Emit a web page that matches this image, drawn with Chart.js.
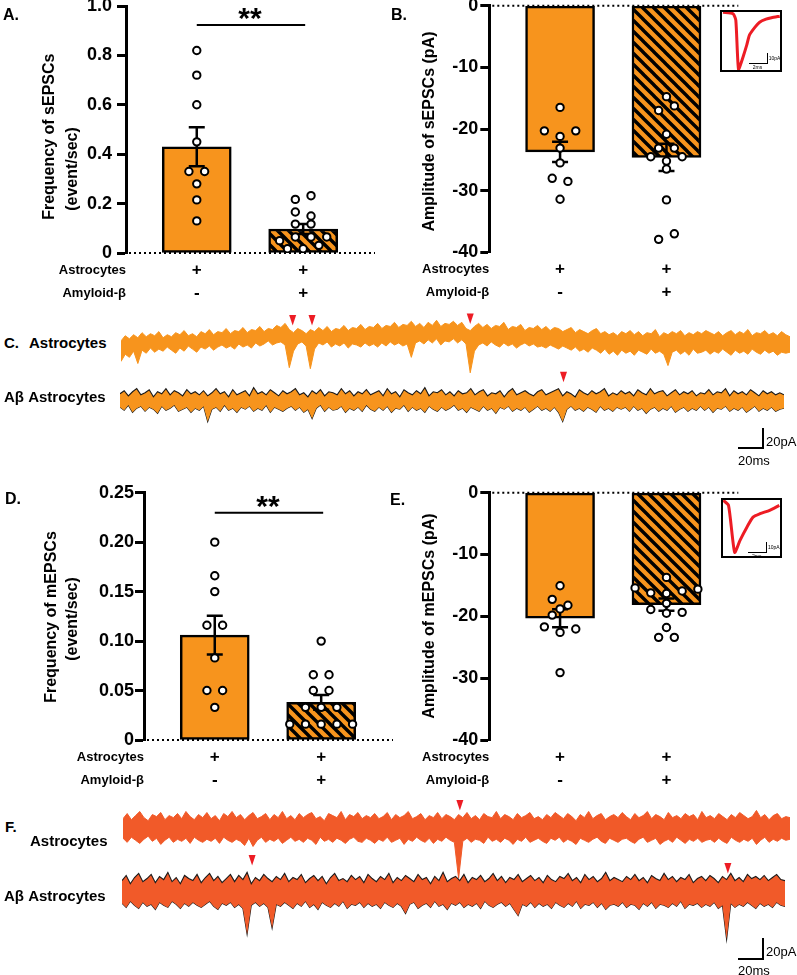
<!DOCTYPE html>
<html>
<head>
<meta charset="utf-8">
<title>Astrocytes and amyloid-beta EPSCs</title>
<script src="https://cdn.jsdelivr.net/npm/chart.js@4.4.1/dist/chart.umd.min.js"></script>
<style>
  html, body { margin: 0; padding: 0; background: #fff; }
  #fig { position: relative; width: 797px; height: 975px; overflow: hidden; font-family: "Liberation Sans", Arial, sans-serif; color: #000; }
  #fig canvas { position: absolute; }
  .lbl { position: absolute; white-space: nowrap; line-height: 1; transform: translateY(-50%); }
  .ln { position: absolute; background: #000; }
  .inset { position: absolute; box-sizing: border-box; border: 2px solid #000; background: #fff; }
</style>
</head>
<body>
<div id="fig"></div>
<script>
// ---------------- data ----------------
// condition rows under each bar
const rowNames = ['Astrocytes', 'Amyloid-β'];
const astroRow = ['+', '+'];
const abetaRow = ['-', '+'];

// A. sEPSC frequency (event/sec)
const sFreqMean = [0.43, 0.097];
const sFreqSem = [0.079, 0.02];
const sFreqCtrl = [0.82, 0.72, 0.60, 0.45, 0.33, 0.33, 0.28, 0.215, 0.13];
const sFreqAb = [0.217, 0.232, 0.166, 0.15, 0.117, 0.117, 0.05, 0.065, 0.065, 0.065, 0.017, 0.017, 0.031];
const sFreqTicks = [0, 0.2, 0.4, 0.6, 0.8, 1.0];
const sFreqTickLabels = ['0', '0.2', '0.4', '0.6', '0.8', '1.0'];

// B. sEPSC amplitude (pA)
const sAmpMean = [-23.7, -24.6];
const sAmpSem = [1.65, 2.2];
const sAmpCtrl = [-16.5, -20.3, -21.2, -20.3, -23.1, -25.5, -28.0, -28.5, -31.4];
const sAmpAb = [-14.75, -17.0, -16.25, -20.85, -23.1, -23.1, -24.5, -25.2, -24.5, -26.5, -31.5, -37.9, -37.0];
const ampTicks = [-40, -30, -20, -10, 0];
const ampTickLabels = ['-40', '-30', '-20', '-10', '0'];

// D. mEPSC frequency (event/sec)
const mFreqMean = [0.106, 0.038];
const mFreqSem = [0.0195, 0.0075];
const mFreqCtrl = [0.20, 0.166, 0.15, 0.116, 0.116, 0.083, 0.05, 0.05, 0.033];
const mFreqAb = [0.10, 0.066, 0.066, 0.05, 0.05, 0.033, 0.033, 0.033, 0.016, 0.016, 0.016, 0.016, 0.016];
const mFreqTicks = [0, 0.05, 0.10, 0.15, 0.20, 0.25];
const mFreqTickLabels = ['0', '0.05', '0.10', '0.15', '0.20', '0.25'];

// E. mEPSC amplitude (pA)
const mAmpMean = [-20.3, -18.1];
const mAmpSem = [1.45, 1.0];
const mAmpCtrl = [-15.05, -17.25, -18.2, -18.8, -19.8, -21.7, -22.6, -22.05, -29.1];
const mAmpAb = [-13.7, -15.4, -16.2, -16.3, -15.9, -15.6, -17.9, -18.9, -19.5, -19.35, -21.8, -23.4, -23.4];

// inset averaged events (ms, pA)
const sEventTime = [0, 1.1, 1.4, 1.7, 2.2, 2.6, 2.9, 3.5, 4.0, 4.7, 5.3, 6.2];
const sEventAmp = [0, -1.5, -8, -58, -45, -33, -23, -15, -10, -7, -5.5, -4];
const mEventTime = [0, 0.6, 1.3, 1.9, 2.7, 3.4, 4.2, 5.3, 6.4];
const mEventAmp = [0, -5, -51.7, -40, -26.7, -16.7, -13.3, -10, -5];

// C. sEPSC traces, upper / lower envelope (pA), 160 samples
const cAstroUp = [
  4,9,6,10,7,12,8,11,9,13,7,10,8,12,10,14,9,11,8,13,
  11,15,10,13,12,16,11,14,13,17,12,15,14,18,13,16,15,19,17,21,
  15,12,16,14,11,15,13,17,14,18,13,16,15,19,14,17,16,20,15,18,
  17,21,16,19,18,22,17,20,19,23,18,21,17,22,19,24,18,21,20,23,
  19,22,16,14,18,21,17,20,16,19,18,22,15,18,17,20,14,17,16,19,
  15,18,14,17,16,13,15,17,12,15,13,11,14,16,11,13,10,12,9,13,
  11,14,10,13,9,12,11,15,8,12,10,13,11,14,9,12,10,13,11,14,
  12,10,13,9,12,14,10,13,11,15,9,12,11,14,10,12,9,13,10,8];
const cAstroLo = [
  -16,-9,-12,-6,-18,-5,-8,-3,-7,-4,-6,-2,-5,-8,-3,-6,-1,-4,-7,-2,
  -4,-1,-5,-2,0,-3,-1,-4,1,-2,0,-3,2,-1,1,4,0,2,3,0,
  -22,-6,1,3,-1,-23,-4,2,0,3,-2,1,-1,2,-3,1,0,-2,2,-1,
  1,-2,2,-1,3,0,2,-1,1,-12,2,4,1,5,2,6,0,4,3,6,
  2,5,1,-27,-6,0,2,-1,3,0,-2,2,-1,1,-3,0,2,-1,1,-2,
  -1,-3,0,-2,-4,-1,-3,-5,-2,-6,-4,-7,-3,-5,-8,-4,-9,-6,-10,-5,
  -8,-6,-10,-5,-7,-9,-4,-8,-6,-9,-20,-7,-5,-9,-6,-10,-4,-8,-7,-5,
  -9,-6,-8,-4,-7,-10,-5,-8,-6,-9,-4,-7,-9,-5,-8,-6,-10,-7,-8,-7];
const cAbUp = [
  7,10,5,9,12,6,8,11,4,9,7,12,6,10,8,5,11,7,9,6,
  10,5,8,12,7,9,4,11,6,8,10,5,13,7,9,6,11,8,5,10,
  7,9,12,6,8,4,10,7,11,5,9,8,6,12,7,10,5,9,7,11,
  6,8,10,5,12,7,9,4,11,8,6,10,7,13,5,9,8,11,6,9,
  5,10,7,8,12,6,9,11,5,8,7,10,4,9,12,6,8,10,7,5,
  9,11,6,8,10,12,5,9,7,4,11,8,6,10,7,9,12,5,8,6,
  10,7,9,5,11,8,6,12,7,9,10,5,8,11,6,9,7,10,5,8,
  7,11,6,9,8,12,5,10,7,9,6,11,8,5,10,7,9,6,8,6];
const cAbLo = [
  -6,-9,-4,-11,-7,-5,-10,-6,-8,-12,-5,-9,-7,-4,-10,-8,-6,-11,-7,-9,
  -5,-20,-8,-6,-10,-4,-9,-7,-11,-6,-8,-5,-10,-7,-9,-4,-11,-6,-8,-10,
  -7,-5,-9,-6,-11,-8,-17,-7,-4,-10,-6,-9,-8,-5,-11,-7,-9,-6,-10,-4,
  -8,-10,-6,-9,-5,-11,-7,-8,-4,-10,-6,-9,-7,-11,-5,-8,-10,-6,-9,-7,
  -4,-9,-7,-11,-6,-8,-10,-5,-9,-7,-12,-6,-8,-5,-10,-7,-9,-6,-11,-8,
  -5,-9,-7,-10,-6,-11,-20,-8,-5,-9,-7,-10,-6,-8,-11,-5,-9,-7,-10,-6,
  -8,-6,-10,-5,-9,-7,-12,-8,-6,-10,-7,-9,-5,-11,-8,-6,-10,-7,-9,-5,
  -9,-6,-11,-7,-8,-5,-10,-7,-9,-6,-11,-8,-5,-10,-7,-9,-6,-10,-8,-7];
const cAstroEvents = [40.8, 45.4, 83.0];
const cAbEvents = [106.2];

// F. mEPSC traces, upper / lower envelope (pA), 160 samples
const fAstroUp = [
  10,15,9,13,17,11,8,14,12,16,9,13,11,15,10,17,12,9,14,11,
  16,10,13,8,15,12,17,11,14,9,13,16,10,12,15,9,14,11,17,10,
  13,9,15,11,14,16,10,12,8,15,13,11,17,9,14,12,16,10,13,11,
  15,10,12,16,9,14,11,13,17,10,12,15,9,13,11,16,10,14,12,9,
  14,11,16,10,13,9,15,12,11,17,10,14,12,9,15,11,13,16,10,12,
  9,14,11,16,13,10,15,12,8,14,11,17,10,13,15,9,12,14,11,16,
  12,9,15,11,13,17,10,14,12,9,16,11,13,10,15,12,14,9,17,11,
  13,10,15,12,9,14,11,16,13,10,12,18,11,14,9,13,15,10,12,11];
const fAstroLo = [
  -9,-13,-8,-11,-14,-10,-7,-12,-9,-15,-11,-8,-13,-10,-12,-9,-14,-8,-11,-13,
  -10,-12,-9,-14,-8,-11,-13,-10,-12,-16,-9,-17,-11,-8,-13,-10,-12,-9,-14,-11,
  -8,-12,-10,-13,-9,-11,-15,-8,-12,-10,-13,-9,-11,-14,-10,-8,-12,-13,-9,-11,
  -14,-10,-12,-8,-13,-11,-9,-15,-10,-12,-8,-11,-13,-9,-14,-10,-12,-8,-11,-13,
  -48,-12,-9,-13,-10,-11,-14,-8,-12,-10,-13,-9,-11,-15,-10,-12,-8,-13,-11,-9,
  -12,-14,-9,-11,-8,-13,-10,-12,-15,-9,-11,-13,-10,-8,-12,-14,-9,-11,-13,-10,
  -9,-12,-14,-10,-8,-13,-11,-9,-15,-12,-10,-13,-8,-11,-14,-10,-12,-9,-13,-11,
  -10,-13,-9,-12,-14,-8,-11,-13,-10,-12,-9,-15,-11,-8,-13,-10,-12,-9,-11,-10];
const fAbUp = [
  12,17,9,15,19,11,14,18,10,16,13,20,11,15,9,17,14,12,18,10,
  15,19,12,16,10,14,18,11,17,13,20,9,15,12,18,14,11,16,13,19,
  11,15,13,18,10,14,17,12,16,9,15,19,12,14,11,17,13,16,10,18,
  14,11,16,13,19,10,15,12,17,14,11,18,13,15,9,16,12,20,11,14,
  16,12,18,10,15,13,17,11,14,19,12,16,10,15,13,18,11,14,17,12,
  15,10,17,13,11,16,14,19,12,15,10,18,13,16,11,14,20,12,15,13,
  11,16,13,18,12,15,10,17,14,12,19,13,16,11,15,13,18,10,14,16,
  12,17,14,10,16,13,19,12,15,11,18,14,16,13,17,12,15,18,13,12];
const fAbLo = [
  -10,-14,-8,-12,-15,-9,-13,-11,-16,-9,-12,-14,-8,-11,-15,-10,-13,-9,-12,-14,
  -11,-8,-13,-16,-10,-12,-9,-14,-11,-15,-40,-12,-9,-13,-10,-14,-34,-11,-13,-9,
  -12,-15,-10,-13,-8,-14,-11,-16,-9,-12,-14,-10,-13,-8,-15,-11,-12,-9,-14,-10,
  -13,-11,-15,-9,-12,-14,-10,-13,-20,-11,-9,-15,-12,-10,-14,-8,-13,-11,-16,-10,
  -12,-9,-14,-11,-13,-10,-15,-8,-12,-14,-11,-9,-13,-10,-16,-22,-11,-13,-9,-14,
  -10,-13,-11,-15,-9,-12,-14,-10,-13,-8,-15,-11,-12,-9,-14,-10,-16,-12,-11,-13,
  -9,-14,-11,-12,-16,-10,-13,-9,-15,-11,-12,-14,-10,-13,-8,-15,-11,-12,-10,-14,
  -11,-13,-9,-15,-12,-45,-10,-14,-11,-13,-9,-12,-15,-10,-13,-11,-14,-9,-12,-13];
const fAstroEvents = [80.3];
const fAbEvents = [31.2, 145.3];

// ---------------- drawing ----------------
const ORANGE = '#F7941D';
const ORANGE_RED = '#F15A29';
const RED = '#ED1C24';
const FONT = '"Liberation Sans", Arial, sans-serif';
const X_MIN = -0.665, X_MAX = 1.675;

Chart.defaults.font.family = FONT;
Chart.defaults.color = '#000';

const fig = document.getElementById('fig');

function makeCanvas(x, y, w, h) {
  const cv = document.createElement('canvas');
  cv.width = Math.round(w);
  cv.height = Math.round(h);
  cv.style.left = x + 'px';
  cv.style.top = y + 'px';
  fig.appendChild(cv);
  return cv;
}

function label(text, x, y, size, bold) {
  const d = document.createElement('div');
  d.className = 'lbl';
  d.textContent = text;
  d.style.left = x + 'px';
  d.style.top = y + 'px';
  d.style.fontSize = size + 'px';
  d.style.fontWeight = bold ? 'bold' : 'normal';
  fig.appendChild(d);
}

function line(x, y, w, h) {
  const d = document.createElement('div');
  d.className = 'ln';
  d.style.left = x + 'px';
  d.style.top = y + 'px';
  d.style.width = w + 'px';
  d.style.height = h + 'px';
  fig.appendChild(d);
}

// diagonal hatch used for the amyloid-beta bars
function hatch() {
  const s = 11;
  const c = document.createElement('canvas');
  c.width = s; c.height = s;
  const g = c.getContext('2d');
  g.fillStyle = ORANGE;
  g.fillRect(0, 0, s, s);
  g.strokeStyle = '#000';
  g.lineWidth = 3.4;
  g.beginPath();
  for (const dx of [-s, 0, s]) { g.moveTo(dx - 1, -1); g.lineTo(dx + s + 1, s + 1); }
  g.stroke();
  return g.createPattern(c, 'repeat');
}

// spread equal-ish values sideways like a scatter dot plot
function swarm(vals, toPx) {
  const gap = 7.85;
  const order = vals.map((v, i) => i).sort((a, b) => toPx(vals[a]) - toPx(vals[b]) || a - b);
  const rows = [];
  order.forEach(i => {
    const last = rows[rows.length - 1];
    if (last && toPx(vals[i]) - last.start < 6) last.items.push(i);
    else rows.push({ start: toPx(vals[i]), items: [i] });
  });
  const off = vals.map(() => 0);
  const placed = [];
  rows.forEach(row => {
    row.items.sort((a, b) => a - b);
    const n = row.items.length;
    const shifts = [0, -gap, gap, -2 * gap, 2 * gap];
    for (let s = 0; s < shifts.length; s++) {
      const cand = row.items.map((i, k) => ({ i, x: shifts[s] + (k - (n - 1) / 2) * 2 * gap, y: toPx(vals[i]) }));
      const clear = cand.every(c => placed.every(q => Math.hypot(c.x - q.x, c.y - q.y) >= 8));
      if (clear || s === shifts.length - 1) {
        cand.forEach(c => { off[c.i] = c.x; placed.push(c); });
        break;
      }
    }
  });
  return off;
}

function barPanel(p) {
  const cv = makeCanvas(p.cl, p.ct, p.cr - p.cl, p.cb - p.ct);
  const unit = (p.r - p.l) / (X_MAX - X_MIN);
  const toPx = v => p.b - (v - p.yMin) / (p.yMax - p.yMin) * (p.b - p.t);
  const cells = [];
  [p.ctrl, p.ab].forEach((vals, g) => {
    const off = swarm(vals, toPx);
    vals.forEach((v, i) => cells.push({ x: g + off[i] / unit, y: v }));
  });

  const deco = {
    id: 'deco',
    beforeDatasetsDraw(chart) {
      const { ctx, chartArea: a, scales: { y } } = chart;
      const py = y.getPixelForValue(0);
      ctx.save();
      ctx.strokeStyle = '#000';
      ctx.lineWidth = 2;
      ctx.setLineDash([2, 3]);
      ctx.beginPath();
      ctx.moveTo(a.left + 3, py);
      ctx.lineTo(a.right, py);
      ctx.stroke();
      ctx.restore();
    },
    afterDatasetDraw(chart, args) {
      if (args.index !== 0) return;
      const { ctx, scales: { x, y } } = chart;
      ctx.save();
      ctx.strokeStyle = '#000';
      ctx.lineWidth = 2.5;
      p.means.forEach((m, g) => {
        const px = x.getPixelForValue(g);
        const y1 = y.getPixelForValue(m + p.sem[g]);
        const y2 = y.getPixelForValue(m - p.sem[g]);
        ctx.beginPath();
        ctx.moveTo(px, y1); ctx.lineTo(px, y2);
        ctx.moveTo(px - 8, y1); ctx.lineTo(px + 8, y1);
        ctx.moveTo(px - 8, y2); ctx.lineTo(px + 8, y2);
        ctx.stroke();
      });
      ctx.restore();
    },
    afterDraw(chart) {
      const { ctx, chartArea: a, scales: { x, y } } = chart;
      ctx.save();
      ctx.fillStyle = '#000';
      // axis title(s)
      ctx.font = 'bold 16px ' + FONT;
      ctx.textAlign = 'center';
      ctx.textBaseline = 'middle';
      p.titles.forEach(([txt, tx, ty]) => {
        ctx.save();
        ctx.translate(tx - p.cl, ty - p.ct);
        ctx.rotate(-Math.PI / 2);
        ctx.fillText(txt, 0, 0);
        ctx.restore();
      });
      // condition rows
      const rowY = [a.bottom + 17.5, a.bottom + 40];
      ctx.font = 'bold 13px ' + FONT;
      ctx.textAlign = 'right';
      rowNames.forEach((n, k) => ctx.fillText(n, a.left, rowY[k]));
      ctx.font = 'bold 17px ' + FONT;
      ctx.textAlign = 'center';
      [astroRow, abetaRow].forEach((row, k) => {
        row.forEach((s, g) => ctx.fillText(s, x.getPixelForValue(g), rowY[k]));
      });
      // significance bracket
      if (p.sig != null) {
        const sy = y.getPixelForValue(p.sig);
        const x0 = x.getPixelForValue(0), x1 = x.getPixelForValue(1);
        ctx.strokeStyle = '#000';
        ctx.lineWidth = 2;
        ctx.beginPath();
        ctx.moveTo(x0, sy); ctx.lineTo(x1 + 2, sy);
        ctx.stroke();
        ctx.font = 'bold 30px ' + FONT;
        ctx.textBaseline = 'alphabetic';
        ctx.fillText('**', (x0 + x1) / 2, sy + 3);
      }
      ctx.restore();
    }
  };

  new Chart(cv, {
    type: 'bar',
    data: {
      datasets: [
        {
          type: 'bar',
          data: p.means.map((m, g) => ({ x: g, y: m })),
          backgroundColor: [ORANGE, hatch()],
          borderColor: '#000',
          borderWidth: 2.5,
          borderSkipped: false,
          barThickness: 69,
          order: 2
        },
        {
          type: 'scatter',
          data: cells,
          pointRadius: 3.7,
          pointBorderWidth: 2,
          pointBackgroundColor: '#fff',
          pointBorderColor: '#000',
          order: 1
        }
      ]
    },
    options: {
      responsive: false,
      animation: false,
      devicePixelRatio: 1,
      layout: { padding: { left: 0, top: p.t - p.ct, right: p.cr - p.r, bottom: p.cb - p.b } },
      plugins: { legend: { display: false }, tooltip: { enabled: false } },
      scales: {
        x: { type: 'linear', display: false, offset: false, min: X_MIN, max: X_MAX },
        y: {
          min: p.yMin,
          max: p.yMax,
          afterFit: s => { s.width = p.l - p.cl; },
          afterBuildTicks: s => { s.ticks = p.ticks.map(v => ({ value: v })); },
          ticks: { callback: (v, i) => p.tickLabels[i], font: { size: 18, weight: 'bold' }, color: '#000', padding: p.tickPad },
          grid: { drawOnChartArea: false, drawTicks: true, tickLength: 9, tickWidth: 3, tickColor: '#000' },
          border: { display: true, color: '#000', width: 3 }
        }
      }
    },
    plugins: [deco]
  });
}

function trace(p) {
  const cv = makeCanvas(p.l, p.t, p.r - p.l, p.b - p.t);
  const marks = {
    id: 'marks',
    afterDraw(chart) {
      const { ctx, scales: { x } } = chart;
      ctx.save();
      ctx.fillStyle = RED;
      p.events.forEach((e, k) => {
        const px = x.getPixelForValue(e);
        const top = p.markTop[k] - p.t;
        ctx.beginPath();
        ctx.moveTo(px - 3.5, top);
        ctx.lineTo(px + 3.5, top);
        ctx.lineTo(px, top + 10.5);
        ctx.closePath();
        ctx.fill();
      });
      ctx.restore();
    }
  };
  new Chart(cv, {
    type: 'line',
    data: {
      labels: p.upper.map((v, i) => i),
      datasets: [
        { data: p.upper, borderColor: p.edge, borderWidth: p.edgeWidth, backgroundColor: p.fill, fill: '+1', pointRadius: 0, tension: 0 },
        { data: p.lower, borderColor: p.edge, borderWidth: p.edgeWidth, fill: false, pointRadius: 0, tension: 0 }
      ]
    },
    options: {
      responsive: false,
      animation: false,
      devicePixelRatio: 1,
      layout: { padding: 0 },
      plugins: { legend: { display: false }, tooltip: { enabled: false } },
      scales: {
        x: { type: 'linear', display: false, min: 0, max: p.upper.length - 1 },
        y: { display: false, min: p.yMin, max: p.yMax }
      }
    },
    plugins: [marks]
  });
}

function inset(p) {
  const box = document.createElement('div');
  box.className = 'inset';
  box.style.left = p.l + 'px';
  box.style.top = p.t + 'px';
  box.style.width = (p.r - p.l) + 'px';
  box.style.height = (p.b - p.t) + 'px';
  fig.appendChild(box);
  const cv = makeCanvas(p.l + 2, p.t + 2, p.r - p.l - 4, p.b - p.t - 4);
  new Chart(cv, {
    type: 'scatter',
    data: {
      datasets: [{
        data: p.time.map((t, i) => ({ x: t, y: p.amp[i] })),
        showLine: true,
        borderColor: RED,
        borderWidth: 3,
        pointRadius: 0,
        tension: 0.2
      }]
    },
    options: {
      responsive: false,
      animation: false,
      devicePixelRatio: 1,
      layout: { padding: 0 },
      plugins: { legend: { display: false }, tooltip: { enabled: false } },
      scales: {
        x: { type: 'linear', display: false, min: p.xMin, max: p.xMax },
        y: { type: 'linear', display: false, min: p.yMin, max: p.yMax }
      }
    }
  });
  // tiny scale bar
  line(p.sbx, p.sby - 10, 1, 10);
  line(p.sbx - 18, p.sby, 19, 1);
  const a = document.createElement('div');
  a.className = 'lbl'; a.textContent = '10pA';
  a.style.cssText += 'left:' + (p.sbx + 2) + 'px;top:' + (p.sby - 5) + 'px;font-size:5px;';
  fig.appendChild(a);
  const b = document.createElement('div');
  b.className = 'lbl'; b.textContent = '2ms';
  b.style.cssText += 'left:' + (p.sbx - 14) + 'px;top:' + (p.sby + 4) + 'px;font-size:5px;';
  fig.appendChild(b);
}

// ---- A ----
barPanel({
  cl: 0, ct: -25, cr: 392, cb: 310, l: 126, t: 6, r: 375, b: 253,
  yMin: 0, yMax: 1, ticks: sFreqTicks, tickLabels: sFreqTickLabels, tickPad: 5,
  means: sFreqMean, sem: sFreqSem, ctrl: sFreqCtrl, ab: sFreqAb,
  titles: [['Frequency of sEPSCs', 50, 136.7], ['(event/sec)', 72.5, 169]],
  sig: 0.923
});
// ---- B ----
barPanel({
  cl: 390, ct: -25, cr: 797, cb: 310, l: 489.3, t: 5.7, r: 738.3, b: 252.3,
  yMin: -40, yMax: 0, ticks: ampTicks, tickLabels: ampTickLabels, tickPad: 2,
  means: sAmpMean, sem: sAmpSem, ctrl: sAmpCtrl, ab: sAmpAb,
  titles: [['Amplitude of sEPSCs (pA)', 430, 131.5]]
});
// ---- D ----
barPanel({
  cl: 0, ct: 460, cr: 400, cb: 800, l: 144, t: 492.7, r: 393, b: 740,
  yMin: 0, yMax: 0.25, ticks: mFreqTicks, tickLabels: mFreqTickLabels, tickPad: 1,
  means: mFreqMean, sem: mFreqSem, ctrl: mFreqCtrl, ab: mFreqAb,
  titles: [['Frequency of mEPSCs', 51.7, 617], ['(event/sec)', 72.7, 619]],
  sig: 0.2297
});
// ---- E ----
barPanel({
  cl: 395, ct: 460, cr: 797, cb: 800, l: 489.3, t: 492.7, r: 738.3, b: 740,
  yMin: -40, yMax: 0, ticks: ampTicks, tickLabels: ampTickLabels, tickPad: 2,
  means: mAmpMean, sem: mAmpSem, ctrl: mAmpCtrl, ab: mAmpAb,
  titles: [['Amplitude of mEPSCs (pA)', 430, 616]]
});

inset({ l: 720, t: 9.7, r: 782.3, b: 71.7, time: sEventTime, amp: sEventAmp,
  xMin: -0.11, xMax: 6.23, yMin: -58.5, yMax: 0.3, sbx: 766.7, sby: 63.3 });
inset({ l: 721, t: 497.7, r: 782.3, b: 558.3, time: mEventTime, amp: mEventAmp,
  xMin: -0.03, xMax: 6.48, yMin: -56.3, yMax: 0.3, sbx: 766, sby: 551.7 });

// ---- C traces ----
trace({ l: 120.7, t: 310, r: 790, b: 380, yMin: -34, yMax: 34, upper: cAstroUp, lower: cAstroLo,
  fill: ORANGE, edge: ORANGE, edgeWidth: 1, events: cAstroEvents, markTop: [315, 315, 313.5] });
trace({ l: 120, t: 365, r: 784, b: 430, yMin: -28.2, yMax: 35, upper: cAbUp, lower: cAbLo,
  fill: ORANGE, edge: '#1a1a1a', edgeWidth: 1.1, events: cAbEvents, markTop: [371.7] });
// ---- F traces ----
trace({ l: 122.7, t: 795, r: 789.3, b: 882, yMin: -51.5, yMax: 33, upper: fAstroUp, lower: fAstroLo,
  fill: ORANGE_RED, edge: ORANGE_RED, edgeWidth: 1, events: fAstroEvents, markTop: [800] });
trace({ l: 121.7, t: 850, r: 785, b: 945, yMin: -50.5, yMax: 41.7, upper: fAbUp, lower: fAbLo,
  fill: ORANGE_RED, edge: '#1a1a1a', edgeWidth: 1.1, events: fAbEvents, markTop: [855, 863] });

// scale bars
line(762.3, 427.7, 2, 21.6); line(737.7, 447.3, 26.6, 2);
line(762.3, 938.3, 2, 21.7); line(737.7, 958, 26.6, 2);
label('20pA', 766, 441, 13, false);
label('20ms', 738, 459.5, 13, false);
label('20pA', 766, 951, 13, false);
label('20ms', 738, 969.5, 13, false);

// panel letters and trace names
label('A.', 3, 15, 16, true);
label('B.', 391, 15, 16, true);
label('D.', 5, 499, 16, true);
label('E.', 390, 500, 16, true);
label('C.', 4, 342, 15, true);
label('Astrocytes', 29, 342, 15, true);
label('Aβ Astrocytes', 4, 396, 15, true);
label('F.', 5, 826, 15, true);
label('Astrocytes', 30, 840, 15, true);
label('Aβ Astrocytes', 4, 895, 15, true);
</script>
</body>
</html>
